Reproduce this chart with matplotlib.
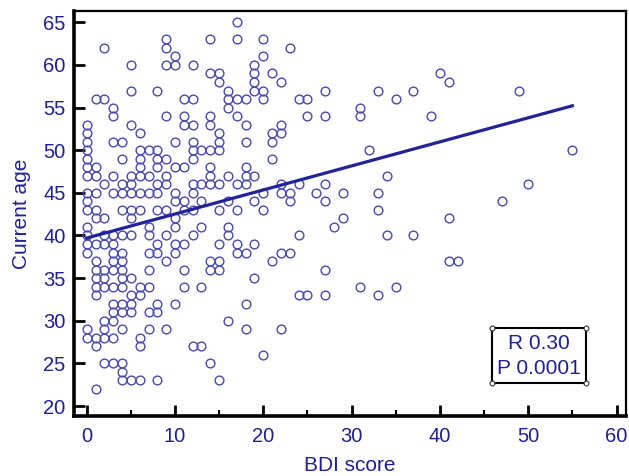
import numpy as np
import matplotlib
matplotlib.use("Agg")
import matplotlib.pyplot as plt
from matplotlib.patches import Rectangle

matplotlib.rcParams["font.family"] = ["Liberation Sans", "DejaVu Sans"]

TEXT = "#1f1f96"
DOT = "#4848b0"
LINE = "#22229a"

# BDI scores present at each age
ROWS = {
    65: [17],
    63: [9, 14, 17, 20],
    62: [2, 9, 23],
    61: [10, 20],
    60: [5, 9, 10, 12, 19],
    59: [14, 15, 19, 21, 40],
    58: [15, 19, 22, 41],
    57: [5, 8, 16, 19, 20, 27, 33, 37, 49],
    56: [1, 2, 11, 12, 16, 17, 18, 20, 24, 25, 35],
    55: [3, 16, 31],
    54: [3, 9, 11, 14, 17, 25, 27, 31, 39],
    53: [0, 5, 11, 12, 14, 18, 22],
    52: [0, 6, 15, 21, 22],
    51: [0, 3, 4, 10, 12, 15, 18, 21],
    50: [0, 6, 7, 8, 12, 13, 14, 15, 32, 55],
    49: [0, 4, 6, 8, 9, 12, 21],
    48: [0, 1, 6, 8, 10, 11, 14, 18],
    47: [0, 1, 3, 5, 6, 7, 9, 14, 16, 18, 19, 34],
    46: [2, 4, 5, 8, 9, 12, 13, 14, 15, 17, 18, 22, 24, 27, 50],
    45: [0, 1, 3, 4, 5, 6, 7, 8, 10, 12, 20, 22, 23, 26, 29, 33],
    44: [0, 10, 11, 13, 16, 19, 23, 27, 47],
    43: [0, 1, 4, 5, 6, 8, 9, 11, 12, 15, 17, 20, 33],
    42: [1, 2, 5, 10, 29, 41],
    41: [0, 7, 10, 13, 16, 28],
    40: [0, 2, 3, 4, 5, 7, 9, 12, 16, 24, 34, 37],
    39: [0, 1, 2, 3, 8, 10, 11, 15, 17, 19],
    38: [0, 3, 4, 7, 8, 10, 17, 18, 22, 23],
    37: [1, 3, 4, 9, 14, 15, 21, 41, 42],
    36: [1, 2, 3, 4, 7, 11, 14, 15, 27],
    35: [1, 2, 4, 5, 19],
    34: [1, 2, 3, 4, 6, 7, 11, 13, 31, 35],
    33: [1, 5, 6, 24, 25, 27, 33],
    32: [3, 4, 5, 8, 10, 18],
    31: [3, 4, 5, 7, 8],
    30: [2, 3, 16],
    29: [0, 2, 4, 7, 9, 18, 22],
    28: [0, 1, 2, 3, 6],
    27: [1, 6, 12, 13],
    26: [20],
    25: [2, 3, 4, 14],
    24: [4],
    23: [4, 5, 6, 8, 15],
    22: [1],
}

bdi = np.array([b for age, scores in ROWS.items() for b in scores], dtype=float)
age = np.array([age for age, scores in ROWS.items() for b in scores], dtype=float)

# regression line as printed on the chart
REG_INTERCEPT = 39.7
REG_SLOPE = 0.282

R_TEXT = "R 0.30"
P_TEXT = "P 0.0001"

fig = plt.figure(figsize=(6.29, 4.76), dpi=100)
ax = fig.add_axes([0.1176, 0.126, 0.8776, 0.851])

ax.plot(bdi, age, "o", ms=6.3, mfc="none", mec=DOT, mew=1.0, zorder=3)

xs = np.array([bdi.min(), bdi.max()])
ax.plot(xs, REG_INTERCEPT + REG_SLOPE * xs, color=LINE, lw=2.3, zorder=4)

ax.set_xlim(-1.44, 61.07)
ax.set_ylim(18.83, 66.33)
ax.set_xticks(np.arange(0, 61, 10))
ax.set_xticks(np.arange(5, 60, 10), minor=True)
ax.set_yticks(np.arange(20, 66, 5))

for side in ["left", "bottom"]:
    ax.spines[side].set_linewidth(2.6)
for side in ["top", "right"]:
    ax.spines[side].set_linewidth(1.6)

ax.tick_params(axis="both", which="major", direction="in", length=8, width=2,
               labelsize=14.5, labelcolor=TEXT, pad=6)
ax.tick_params(axis="x", which="minor", direction="in", length=4, width=1.5)
ax.tick_params(axis="x", which="major", pad=8)

ax.set_xlabel("BDI score", fontsize=15, color=TEXT, labelpad=7)
ax.set_ylabel("Current age", fontsize=15, color=TEXT, labelpad=9)

# R / P box with its corner handles
bx0, by0, bw, bh = 0.758, 0.082, 0.169, 0.135
ax.add_patch(Rectangle((bx0, by0), bw, bh, transform=ax.transAxes, fill=True,
                       facecolor="white", edgecolor="black", lw=1.5, zorder=5))
for cx in (bx0, bx0 + bw):
    for cy in (by0, by0 + bh):
        ax.plot(cx, cy, "o", ms=3.5, mfc="white", mec="#333333", mew=0.8,
                transform=ax.transAxes, zorder=6, clip_on=False)
ax.text(bx0 + bw / 2, by0 + bh * 0.72, R_TEXT, transform=ax.transAxes,
        ha="center", va="center", fontsize=15, color=TEXT, zorder=7)
ax.text(bx0 + bw / 2, by0 + bh * 0.27, P_TEXT, transform=ax.transAxes,
        ha="center", va="center", fontsize=15, color=TEXT, zorder=7)

fig.savefig("out.png", dpi=100)
